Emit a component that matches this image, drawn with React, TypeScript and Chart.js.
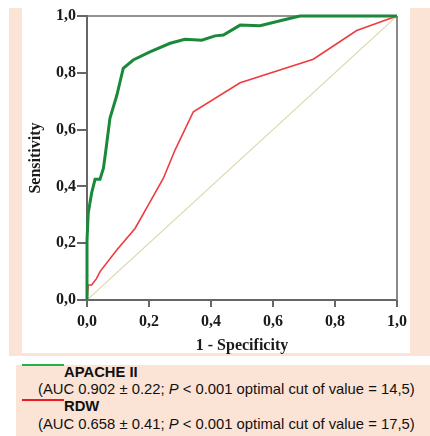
import React, { useEffect, useRef } from 'react';
import { Chart, registerables } from 'chart.js';

Chart.register(...registerables);

// APACHE II ROC curve (1 - specificity, sensitivity)
const apacheX = [0, 0, 0.004, 0.015, 0.026, 0.042, 0.053, 0.06, 0.074, 0.096, 0.117, 0.149, 0.203, 0.268, 0.316, 0.37, 0.413, 0.44, 0.494, 0.558, 0.633, 0.687, 1];
const apacheY = [0, 0.21, 0.306, 0.377, 0.425, 0.425, 0.464, 0.52, 0.64, 0.72, 0.816, 0.845, 0.874, 0.904, 0.918, 0.915, 0.93, 0.933, 0.968, 0.966, 0.986, 1, 1];

// RDW ROC curve
const rdwX = [0, 0.004, 0.015, 0.031, 0.042, 0.096, 0.155, 0.198, 0.246, 0.284, 0.343, 0.494, 0.73, 0.87, 1];
const rdwY = [0, 0.053, 0.053, 0.076, 0.1, 0.176, 0.252, 0.335, 0.428, 0.528, 0.663, 0.765, 0.848, 0.949, 1];

// Reference diagonal
const refX = [0, 1];
const refY = [0, 1];

const tickValues = [0, 0.2, 0.4, 0.6, 0.8, 1.0];
const tickLabels = ['0,0', '0,2', '0,4', '0,6', '0,8', '1,0'];
const xTitle = '1 - Specificity';
const yTitle = 'Sensitivity';

const seriesNames = ['APACHE II', 'RDW'];
const seriesAuc = ['0.902 ± 0.22', '0.658 ± 0.41'];
const seriesP = ['0.001', '0.001'];
const seriesCut = ['14,5', '17,5'];

const PEACH = '#FBE4D5';

const toPoints = (xs: number[], ys: number[]) => xs.map((x, i) => ({ x, y: ys[i] }));

const framePlugin = {
  id: 'frame',
  beforeDatasetsDraw(chart: any) {
    const { ctx, chartArea: a } = chart;
    ctx.save();
    ctx.lineWidth = 1.5;
    ctx.strokeStyle = '#6e6e6e';
    ctx.beginPath();
    ctx.moveTo(a.left, a.top);
    ctx.lineTo(a.right, a.top);
    ctx.stroke();
    ctx.lineWidth = 2;
    ctx.strokeStyle = '#8a8a8a';
    ctx.beginPath();
    ctx.moveTo(a.right, a.top);
    ctx.lineTo(a.right, a.bottom);
    ctx.stroke();
    ctx.restore();
  },
};

export default function App() {
  const ref = useRef<HTMLCanvasElement | null>(null);

  useEffect(() => {
    if (!ref.current) return;
    const tickFont = { family: "'Liberation Serif', 'Times New Roman', serif", size: 16, weight: 'bold' as const };
    const setTicks = (scale: any) => {
      scale.ticks = tickValues.map((v) => ({ value: v }));
    };
    const fmt = (_v: any, i: number) => tickLabels[i];
    const chart = new Chart(ref.current, {
      type: 'scatter',
      data: {
        datasets: [
          {
            label: seriesNames[0],
            data: toPoints(apacheX, apacheY),
            showLine: true,
            borderColor: '#1a8a3a',
            borderWidth: 3,
            pointRadius: 0,
            tension: 0,
            clip: 4,
          },
          {
            label: seriesNames[1],
            data: toPoints(rdwX, rdwY),
            showLine: true,
            borderColor: '#f03a3e',
            borderWidth: 1.6,
            pointRadius: 0,
            tension: 0,
            clip: 4,
          },
          {
            label: 'ref',
            data: toPoints(refX, refY),
            showLine: true,
            borderColor: '#dcd8ae',
            borderWidth: 1.2,
            pointRadius: 0,
            tension: 0,
          },
        ],
      },
      options: {
        responsive: false,
        animation: false,
        events: [],
        layout: { padding: { left: 0, right: 33, top: 16, bottom: 80 } },
        plugins: { legend: { display: false }, tooltip: { enabled: false } },
        scales: {
          x: {
            type: 'linear',
            min: 0,
            max: 1,
            afterBuildTicks: setTicks,
            afterFit: (s: any) => { s.height = 56; },
            grid: { drawOnChartArea: false, drawTicks: true, tickLength: 7, color: '#666', lineWidth: 2 },
            border: { display: true, color: '#666', width: 2 },
            ticks: { callback: fmt, font: tickFont, color: '#1a1a1a', padding: 5, maxRotation: 0, autoSkip: false },
            title: { display: true, text: xTitle, font: tickFont, color: '#1a1a1a', padding: { top: 0, bottom: 1 } },
          },
          y: {
            type: 'linear',
            min: 0,
            max: 1,
            afterBuildTicks: setTicks,
            afterFit: (s: any) => { s.width = 87; },
            grid: { drawOnChartArea: false, drawTicks: true, tickLength: 10, color: '#666', lineWidth: 2 },
            border: { display: true, color: '#666', width: 2 },
            ticks: { callback: fmt, font: tickFont, color: '#1a1a1a', padding: 1, autoSkip: false },
            title: { display: true, text: yTitle, font: tickFont, color: '#1a1a1a', padding: { top: 26, bottom: 0 } },
          },
        },
      },
      plugins: [framePlugin],
    });
    return () => chart.destroy();
  }, []);

  const legendText: React.CSSProperties = {
    position: 'absolute',
    fontFamily: "'Liberation Sans', Arial, sans-serif",
    fontSize: 14.8,
    lineHeight: '15px',
    color: '#111',
    whiteSpace: 'nowrap',
  };

  return (
    <div style={{ position: 'absolute', left: 0, top: 0, width: 430, height: 436, overflow: 'hidden', background: '#fff' }}>
      <div style={{ position: 'absolute', left: 9, top: 8, width: 421, height: 348, background: PEACH }} />
      <div style={{ position: 'absolute', left: 22, top: 0, width: 388, height: 353, background: '#fff' }} />
      <div style={{ position: 'absolute', left: 16, top: 365, width: 414, height: 71, background: PEACH }} />
      <div style={{ position: 'absolute', left: 22, top: 364, width: 42, height: 2, background: '#22b14c' }} />
      <div style={{ ...legendText, left: 64, top: 364.6, fontWeight: 'bold' }}>{seriesNames[0]}</div>
      <div style={{ ...legendText, left: 38, top: 382.3 }}>
        (AUC {seriesAuc[0]}; <i>P</i> &lt; {seriesP[0]} optimal cut of value = {seriesCut[0]})
      </div>
      <div style={{ position: 'absolute', left: 22, top: 399, width: 42, height: 2, background: '#ed1c24' }} />
      <div style={{ ...legendText, left: 64, top: 399, fontWeight: 'bold' }}>{seriesNames[1]}</div>
      <div style={{ ...legendText, left: 38, top: 416.6 }}>
        (AUC {seriesAuc[1]}; <i>P</i> &lt; {seriesP[1]} optimal cut of value = {seriesCut[1]})
      </div>
      <canvas ref={ref} width={430} height={436} style={{ position: 'absolute', left: 0, top: 0, width: 430, height: 436 }} />
    </div>
  );
}
